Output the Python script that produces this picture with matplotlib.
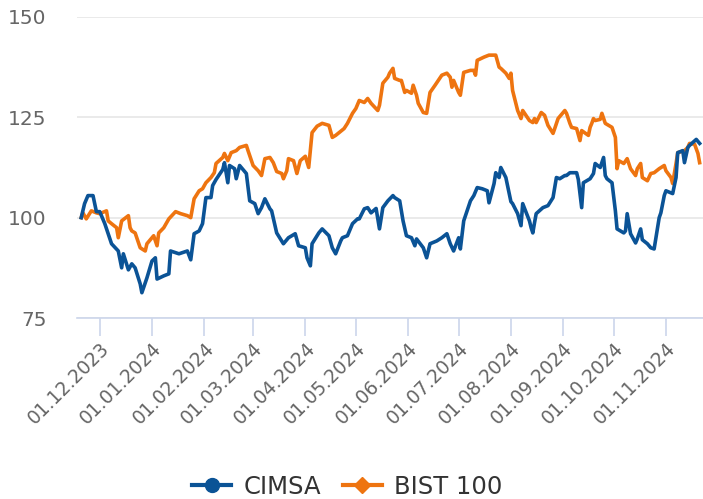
import matplotlib
matplotlib.use('Agg')
import matplotlib.pyplot as plt
import matplotlib.dates as mdates
from matplotlib.lines import Line2D
import pandas as pd

# data (index, start = 100)
cimsa_dates = [
    '2023-11-20', '2023-11-22', '2023-11-24', '2023-11-27', '2023-11-29', '2023-12-01',
    '2023-12-04', '2023-12-06', '2023-12-08', '2023-12-12', '2023-12-14', '2023-12-15',
    '2023-12-18', '2023-12-20', '2023-12-22', '2023-12-25', '2023-12-26', '2023-12-29',
    '2024-01-01', '2024-01-03', '2024-01-04', '2024-01-08', '2024-01-11', '2024-01-12',
    '2024-01-17', '2024-01-22', '2024-01-24', '2024-01-26', '2024-01-29', '2024-01-31',
    '2024-02-02', '2024-02-05', '2024-02-06', '2024-02-08', '2024-02-12', '2024-02-13',
    '2024-02-15', '2024-02-16', '2024-02-19', '2024-02-20', '2024-02-22', '2024-02-23',
    '2024-02-26', '2024-02-28', '2024-03-02', '2024-03-04', '2024-03-06', '2024-03-08',
    '2024-03-11', '2024-03-12', '2024-03-15', '2024-03-19', '2024-03-22', '2024-03-26',
    '2024-03-28', '2024-04-01', '2024-04-02', '2024-04-04', '2024-04-05', '2024-04-09',
    '2024-04-11', '2024-04-15', '2024-04-17', '2024-04-19', '2024-04-22', '2024-04-23',
    '2024-04-26', '2024-04-29', '2024-05-02', '2024-05-03', '2024-05-06', '2024-05-08',
    '2024-05-10', '2024-05-13', '2024-05-15', '2024-05-17', '2024-05-20', '2024-05-23',
    '2024-05-24', '2024-05-27', '2024-05-29', '2024-05-31', '2024-06-03', '2024-06-05',
    '2024-06-06', '2024-06-10', '2024-06-12', '2024-06-14', '2024-06-18', '2024-06-21',
    '2024-06-24', '2024-06-26', '2024-06-28', '2024-07-01', '2024-07-02', '2024-07-04',
    '2024-07-08', '2024-07-10', '2024-07-12', '2024-07-15', '2024-07-18', '2024-07-19',
    '2024-07-22', '2024-07-23', '2024-07-25', '2024-07-26', '2024-07-29', '2024-08-01',
    '2024-08-02', '2024-08-05', '2024-08-07', '2024-08-08', '2024-08-12', '2024-08-13',
    '2024-08-14', '2024-08-15', '2024-08-16', '2024-08-20', '2024-08-23', '2024-08-26',
    '2024-08-28', '2024-08-30', '2024-09-02', '2024-09-03', '2024-09-05', '2024-09-09',
    '2024-09-10', '2024-09-12', '2024-09-13', '2024-09-17', '2024-09-19', '2024-09-20',
    '2024-09-23', '2024-09-25', '2024-09-26', '2024-09-27', '2024-09-30', '2024-10-02',
    '2024-10-03', '2024-10-07', '2024-10-08', '2024-10-09', '2024-10-11', '2024-10-14',
    '2024-10-15', '2024-10-17', '2024-10-18', '2024-10-21', '2024-10-23', '2024-10-25',
    '2024-10-28', '2024-10-29', '2024-10-31', '2024-11-01', '2024-11-05', '2024-11-07',
    '2024-11-08', '2024-11-11', '2024-11-12', '2024-11-14', '2024-11-15', '2024-11-19',
    '2024-11-21',
]
cimsa_vals = [
    100.0, 103.5, 105.5, 105.5, 101.5, 101.5,
    98.5, 96.0, 93.5, 91.7, 87.5, 91.0,
    87.0, 88.5, 87.5, 83.5, 81.3, 85.0,
    89.2, 90.0, 84.7, 85.5, 86.0, 91.7,
    91.0, 91.7, 89.5, 96.0, 96.7, 98.5,
    105.0, 105.0, 108.0, 109.5, 112.0, 113.7,
    108.7, 113.0, 112.2, 109.7, 113.0, 112.5,
    111.0, 104.2, 103.5, 101.0, 102.5, 104.7,
    102.2, 101.7, 96.2, 93.5, 95.0, 96.0,
    93.0, 92.5, 90.0, 88.0, 93.5, 96.2,
    97.2, 95.5, 92.5, 91.0, 94.2, 95.0,
    95.5, 98.5, 99.7, 99.7, 102.2, 102.5,
    101.2, 102.3, 97.2, 102.5, 104.2, 105.5,
    105.0, 104.2, 99.2, 95.5, 95.0, 93.0,
    94.7, 92.5, 90.0, 93.5, 94.2, 95.0,
    96.0, 93.5, 91.7, 95.0, 92.2, 99.2,
    104.2, 105.5, 107.5, 107.2, 106.7, 103.7,
    108.5, 111.2, 110.0, 112.5, 110.0, 104.0,
    103.5, 101.0, 98.0, 103.5, 99.2, 97.5,
    96.2, 98.7, 101.0, 102.5, 103.0, 105.0,
    110.0, 109.7, 110.5, 110.5, 111.2, 111.2,
    109.5, 102.5, 108.7, 109.7, 111.0, 113.5,
    112.5, 115.0, 110.5, 109.7, 108.7, 101.7,
    97.2, 96.2, 96.7, 101.0, 96.0, 93.7,
    94.7, 97.2, 94.5, 93.5, 92.5, 92.2,
    100.0, 101.2, 105.5, 106.7, 106.0, 110.0,
    116.2, 116.7, 113.7, 117.5, 118.0, 119.5,
    118.5,
]

bist_dates = [
    '2023-11-20', '2023-11-21', '2023-11-23', '2023-11-26', '2023-11-29', '2023-12-01',
    '2023-12-05', '2023-12-06', '2023-12-08', '2023-12-11', '2023-12-12', '2023-12-14',
    '2023-12-18', '2023-12-19', '2023-12-20', '2023-12-22', '2023-12-25', '2023-12-28',
    '2023-12-29', '2024-01-02', '2024-01-04', '2024-01-05', '2024-01-08', '2024-01-11',
    '2024-01-15', '2024-01-18', '2024-01-22', '2024-01-24', '2024-01-26', '2024-01-29',
    '2024-01-31', '2024-02-02', '2024-02-05', '2024-02-07', '2024-02-08', '2024-02-12',
    '2024-02-13', '2024-02-15', '2024-02-17', '2024-02-20', '2024-02-22', '2024-02-26',
    '2024-02-27', '2024-02-29', '2024-03-01', '2024-03-04', '2024-03-06', '2024-03-08',
    '2024-03-11', '2024-03-13', '2024-03-15', '2024-03-18', '2024-03-19', '2024-03-21',
    '2024-03-22', '2024-03-25', '2024-03-27', '2024-03-29', '2024-04-01', '2024-04-03',
    '2024-04-05', '2024-04-08', '2024-04-11', '2024-04-15', '2024-04-17', '2024-04-19',
    '2024-04-22', '2024-04-24', '2024-04-26', '2024-04-29', '2024-05-01', '2024-05-03',
    '2024-05-06', '2024-05-08', '2024-05-10', '2024-05-14', '2024-05-15', '2024-05-17',
    '2024-05-20', '2024-05-21', '2024-05-23', '2024-05-24', '2024-05-27', '2024-05-28',
    '2024-05-30', '2024-05-31', '2024-06-03', '2024-06-04', '2024-06-06', '2024-06-07',
    '2024-06-10', '2024-06-12', '2024-06-14', '2024-06-17', '2024-06-21', '2024-06-24',
    '2024-06-26', '2024-06-27', '2024-06-28', '2024-07-01', '2024-07-02', '2024-07-04',
    '2024-07-08', '2024-07-10', '2024-07-11', '2024-07-12', '2024-07-16', '2024-07-19',
    '2024-07-23', '2024-07-25', '2024-07-26', '2024-07-29', '2024-07-31', '2024-08-01',
    '2024-08-02', '2024-08-05', '2024-08-07', '2024-08-08', '2024-08-12', '2024-08-14',
    '2024-08-15', '2024-08-16', '2024-08-19', '2024-08-21', '2024-08-23', '2024-08-26',
    '2024-08-27', '2024-08-29', '2024-09-02', '2024-09-03', '2024-09-05', '2024-09-06',
    '2024-09-09', '2024-09-11', '2024-09-12', '2024-09-16', '2024-09-17', '2024-09-18',
    '2024-09-19', '2024-09-20', '2024-09-23', '2024-09-24', '2024-09-26', '2024-09-30',
    '2024-10-02', '2024-10-03', '2024-10-04', '2024-10-07', '2024-10-09', '2024-10-11',
    '2024-10-14', '2024-10-15', '2024-10-17', '2024-10-18', '2024-10-21', '2024-10-23',
    '2024-10-25', '2024-10-28', '2024-10-31', '2024-11-01', '2024-11-04', '2024-11-05',
    '2024-11-07', '2024-11-08', '2024-11-12', '2024-11-14', '2024-11-15', '2024-11-18',
    '2024-11-20', '2024-11-21',
]
bist_vals = [
    100.0, 101.2, 99.7, 101.7, 101.2, 101.0,
    101.7, 99.2, 98.5, 97.5, 95.0, 99.2,
    100.5, 97.5, 96.7, 96.2, 92.5, 91.7,
    93.5, 95.5, 93.0, 96.2, 97.5, 99.7,
    101.5, 101.0, 100.5, 100.0, 104.7, 106.7,
    107.2, 108.7, 110.0, 111.2, 113.5, 115.0,
    116.0, 114.2, 116.2, 116.7, 117.5, 118.0,
    116.7, 114.2, 113.0, 111.7, 110.5, 114.7,
    115.0, 113.7, 111.5, 111.0, 109.7, 111.7,
    114.7, 114.2, 111.0, 114.2, 115.3, 112.5,
    121.2, 122.8, 123.5, 123.0, 120.0, 120.5,
    121.5, 122.2, 123.5, 126.0, 127.2, 129.2,
    128.7, 129.7, 128.5, 126.7, 128.0, 133.5,
    135.0, 136.0, 137.2, 134.7, 134.2, 134.2,
    131.2, 131.7, 131.0, 133.0, 130.5, 128.5,
    126.2, 126.0, 131.2, 133.0, 135.5, 136.0,
    135.0, 132.5, 134.2, 131.2, 130.5, 136.2,
    136.7, 136.7, 135.5, 139.2, 140.0, 140.5,
    140.5, 137.5, 137.2, 136.0, 134.7, 136.0,
    131.7, 126.7, 124.7, 126.7, 124.2, 123.7,
    124.7, 123.7, 126.2, 125.5, 123.0, 121.0,
    122.2, 124.7, 126.7, 126.0, 123.5, 122.5,
    122.2, 119.2, 121.7, 120.5, 122.5, 123.5,
    124.7, 124.2, 124.5, 126.0, 123.5, 122.5,
    120.0, 112.2, 114.2, 113.5, 114.7, 112.2,
    110.5, 112.2, 113.5, 110.0, 109.2, 111.0,
    111.2, 112.2, 113.0, 111.7, 110.0, 108.5,
    113.5, 116.2, 116.7, 117.5, 118.5, 118.3,
    116.0, 113.7,
]

y_ticks = [75, 100, 125, 150]
blue = '#0b5396'
orange = '#ee7410'

fig = plt.figure(figsize=(7.03, 4.99), dpi=100)
ax = fig.add_axes([77 / 703, 1 - 318 / 499, 1 - 77 / 703, (318 - 17) / 499])

ax.plot(pd.to_datetime(cimsa_dates), cimsa_vals, color=blue, lw=2.6,
        solid_joinstyle='round', zorder=3)
ax.plot(pd.to_datetime(bist_dates), bist_vals, color=orange, lw=2.6,
        solid_joinstyle='round', zorder=2)

ax.set_ylim(75, 150)
ax.set_yticks(y_ticks)
ax.set_xlim(pd.Timestamp('2023-11-17 12:00'), pd.Timestamp('2024-11-23'))
ax.xaxis.set_major_locator(mdates.MonthLocator(bymonthday=1))
ax.xaxis.set_major_formatter(mdates.DateFormatter('%d.%m.%Y'))

ax.grid(axis='y', color='#e6e6e6', lw=1.2)
ax.set_axisbelow(True)
for s in ['top', 'right', 'left']:
    ax.spines[s].set_visible(False)
ax.spines['bottom'].set_color('#ccd6eb')
ax.spines['bottom'].set_linewidth(1.2)
ax.spines['bottom'].set_zorder(1)

ax.tick_params(axis='y', length=0, pad=22, labelsize=14.5, labelcolor='#666666')
ax.tick_params(axis='x', length=13, width=1.2, color='#ccd6eb', pad=2,
               labelsize=13.5, labelcolor='#666666')
for lab in ax.get_yticklabels():
    lab.set_horizontalalignment('right')
for lab in ax.get_xticklabels():
    lab.set_rotation(45)
    lab.set_ha('right')
    lab.set_va('top')
    lab.set_rotation_mode('anchor')

handles = [
    Line2D([], [], color=blue, lw=3, marker='o', markersize=10),
    Line2D([], [], color=orange, lw=3, marker='D', markersize=8),
]
fig.legend(handles, ['CIMSA', 'BIST 100'], loc='center', bbox_to_anchor=(0.494, 1 - 487 / 499),
           ncol=2, frameon=False, fontsize=17.5, labelcolor='#333333',
           handlelength=1.6, handletextpad=0.5, columnspacing=0.9)

fig.savefig('out.png', dpi=100)
